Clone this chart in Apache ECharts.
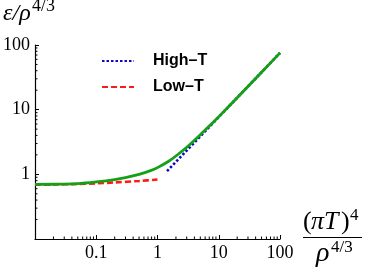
<!DOCTYPE html>
<html><head><meta charset="utf-8">
<script src="https://cdn.jsdelivr.net/npm/echarts@6/dist/echarts.min.js"></script>
<style>html,body{margin:0;padding:0;background:#fff}#c{width:366px;height:275px}</style>
</head><body><div id="c"></div>
<script>
// Data
const greenX = [0.01, 0.02, 0.05, 0.1, 0.2, 0.3, 0.5, 0.77, 1, 1.5, 2, 3, 5, 7, 10, 20, 50, 100];
const greenY = [0.70, 0.703, 0.72, 0.765, 0.83, 0.89, 1.0, 1.14, 1.27, 1.58, 1.92, 2.62, 4.1, 5.58, 7.8, 15.3, 37.9, 75.5];
const highTX = [1.43, 100];
const highTY = [1.12, 75.5];
const lowTX = [0.01, 0.02, 0.05, 0.1, 0.2, 0.5, 1];
const lowTY = [0.69, 0.695, 0.71, 0.725, 0.75, 0.79, 0.83];
const xTickLabels = {'-1': '0.1', '0': '1', '1': '10', '2': '100'};
const yTickLabels = {'0': '1', '1': '10', '2': '100'};
const xMin = 0.01, xMax = 100, yMin = 0.1, yMax = 100;

const zip = (a, b) => a.map((v, i) => [v, b[i]]);
// minor tick positions (2..9 within each decade)
const minorTicks = [];
for (let d = xMin; d < xMax * 0.99; d *= 10) for (let k = 2; k <= 9; k++) minorTicks.push([d * k, yMin, 1]);
for (let d = yMin; d < yMax * 0.99; d *= 10) for (let k = 2; k <= 9; k++) minorTicks.push([xMin, d * k, 2]);

const serif = 'Liberation Serif';
function txt(str, x, y, size, italic) {
  return {type: 'text', x: x, y: y, style: {text: str, fontFamily: serif, fontSize: size,
    fontStyle: italic ? 'italic' : 'normal', lineHeight: size, align: 'left', verticalAlign: 'top', fill: '#000'}};
}
const chart = echarts.init(document.getElementById('c'), null, {renderer: 'canvas'});
const axisCommon = {
  type: 'log', logBase: 10,
  axisLine: {lineStyle: {color: '#000', width: 1.2}},
  axisTick: {inside: true, length: 4, lineStyle: {color: '#000', width: 1}},
  splitLine: {show: false},
  minorTick: {show: false}
};
chart.setOption({
  animation: false,
  backgroundColor: '#fff',
  grid: {left: 33, right: 86, top: 45, bottom: 36},
  xAxis: Object.assign({}, axisCommon, {
    min: xMin, max: xMax,
    axisLabel: {color: '#000', fontFamily: serif, fontSize: 18, margin: 5,
      formatter: v => xTickLabels[Math.round(Math.log10(v))] || ''}
  }),
  yAxis: Object.assign({}, axisCommon, {
    min: yMin, max: yMax,
    axisLabel: {color: '#000', fontFamily: serif, fontSize: 18, margin: 5,
      formatter: v => yTickLabels[Math.round(Math.log10(v))] || ''}
  }),
  legend: {
    data: ['High–T', 'Low–T'], orient: 'vertical', left: 96, top: 48,
    itemWidth: 32, itemHeight: 14, itemGap: 10,
    itemStyle: {opacity: 0},
    textStyle: {fontFamily: 'Liberation Sans', fontWeight: 'bold', fontSize: 16, color: '#000', padding: [0, 0, 0, 14]}
  },
  series: [
    {name: 'Low–T', type: 'line', data: zip(lowTX, lowTY), symbol: 'none', smooth: 0.3,
      lineStyle: {color: '#ff1a1a', width: 2.6, type: [6, 3]}, itemStyle: {color: '#ff1a1a'}},
    {name: 'High–T', type: 'line', data: zip(highTX, highTY), symbol: 'none',
      lineStyle: {color: '#0a0ac0', width: 2.6, type: [2.5, 2]}, itemStyle: {color: '#0a0ac0'}},
    {name: 'full', type: 'line', data: zip(greenX, greenY), symbol: 'none', smooth: 0.3,
      lineStyle: {color: '#16a016', width: 2.8}, itemStyle: {color: '#16a016'}},
    {name: 'ticks', type: 'custom', silent: true, data: minorTicks,
      renderItem: (params, api) => {
        const p = api.coord([api.value(0), api.value(1)]);
        const kind = api.value(2);
        const shape = kind === 1 ? {x1: p[0], y1: p[1], x2: p[0], y2: p[1] - 2.5}
                                 : {x1: p[0], y1: p[1], x2: p[0] + 2.5, y2: p[1]};
        return {type: 'line', shape: shape, style: {stroke: '#000', lineWidth: 1}};
      }}
  ],
  graphic: [
    // y-axis title  ε/ρ^{4/3}
    txt('ε/ρ', 3, 1.5, 24, true),
    txt('4/3', 32, -2.5, 18, false),
    // x-axis title  (πT)^4 / ρ^{4/3}
    txt('(', 303, 209, 26, false),
    txt('πT', 311, 209, 26, true),
    txt(')', 341, 209, 26, false),
    txt('4', 350, 207, 17, false),
    {type: 'line', shape: {x1: 303, y1: 237.5, x2: 362, y2: 237.5}, style: {stroke: '#000', lineWidth: 1.2}},
    txt('ρ', 316, 240, 28, true),
    txt('4/3', 331, 239.5, 17, false)
  ]
});
</script></body></html>
